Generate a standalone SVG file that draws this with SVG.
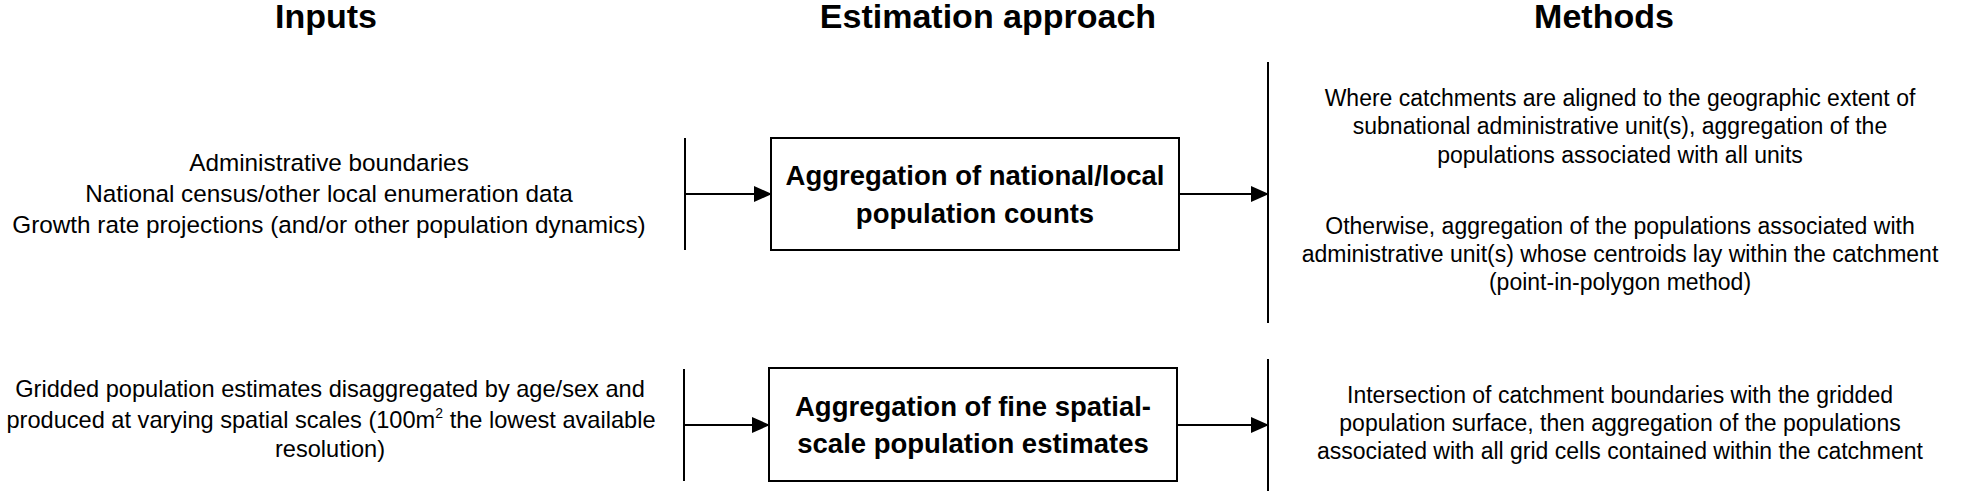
<svg xmlns="http://www.w3.org/2000/svg" width="1961" height="491" viewBox="0 0 1961 491">
<style>
text{font-family:"Liberation Sans",Arial,sans-serif;fill:#000;text-anchor:middle}
.h{font-size:34px;font-weight:bold}
.t{font-size:24.3px}
.t2{font-size:23.6px}
.m{font-size:23px}
.b{font-size:27.5px;font-weight:bold}
.box{fill:#fff;stroke:#000;stroke-width:2}
.ln{stroke:#000;stroke-width:2;fill:none}
</style>
<defs><marker id="a" markerWidth="18" markerHeight="18" refX="17" refY="9" orient="auto" markerUnits="userSpaceOnUse"><path d="M0,1L18,9L0,17z"/></marker></defs>
<g id="headers">
<text class="h" x="326" y="28">Inputs</text>
<text class="h" x="988" y="28">Estimation approach</text>
<text class="h" x="1604" y="28">Methods</text>
</g>
<g id="inputs1">
<text class="t" x="329" y="171">Administrative boundaries</text>
<text class="t" x="329" y="202">National census/other local enumeration data</text>
<text class="t" x="329" y="233">Growth rate projections (and/or other population dynamics)</text>
</g>
<g id="inputs2">
<text class="t2" x="330" y="397">Gridded population estimates disaggregated by age/sex and</text>
<text class="t2" x="331" y="428">produced at varying spatial scales (100m<tspan font-size="14" dy="-10">2</tspan><tspan dy="10"> the lowest available</tspan></text>
<text class="t2" x="330" y="457">resolution)</text>
</g>
<g id="approach1">
<rect class="box" x="771" y="138" width="408" height="112"/>
<text class="b" x="975" y="185">Aggregation of national/local</text>
<text class="b" x="975" y="223">population counts</text>
</g>
<g id="approach2">
<rect class="box" x="769" y="368" width="408" height="113"/>
<text class="b" x="973" y="416">Aggregation of fine spatial-</text>
<text class="b" x="973" y="453">scale population estimates</text>
</g>
<g id="methods1">
<text class="m" x="1620" y="106">Where catchments are aligned to the geographic extent of</text>
<text class="m" x="1620" y="134">subnational administrative unit(s), aggregation of the</text>
<text class="m" x="1620" y="163">populations associated with all units</text>
<text class="m" x="1620" y="234">Otherwise, aggregation of the populations associated with</text>
<text class="m" x="1620" y="262">administrative unit(s) whose centroids lay within the catchment</text>
<text class="m" x="1620" y="290">(point-in-polygon method)</text>
</g>
<g id="methods2">
<text class="m" x="1620" y="403">Intersection of catchment boundaries with the gridded</text>
<text class="m" x="1620" y="431">population surface, then aggregation of the populations</text>
<text class="m" x="1620" y="459">associated with all grid cells contained within the catchment</text>
</g>
<g id="connectors">
<line class="ln" x1="685" y1="138" x2="685" y2="250"/>
<line class="ln" x1="685" y1="194" x2="771" y2="194" marker-end="url(#a)"/>
<line class="ln" x1="1179" y1="194" x2="1268" y2="194" marker-end="url(#a)"/>
<line class="ln" x1="1268" y1="62" x2="1268" y2="323"/>
<line class="ln" x1="684" y1="369" x2="684" y2="481"/>
<line class="ln" x1="684" y1="425" x2="769" y2="425" marker-end="url(#a)"/>
<line class="ln" x1="1177" y1="425" x2="1268" y2="425" marker-end="url(#a)"/>
<line class="ln" x1="1268" y1="359" x2="1268" y2="491"/>
</g>
</svg>
